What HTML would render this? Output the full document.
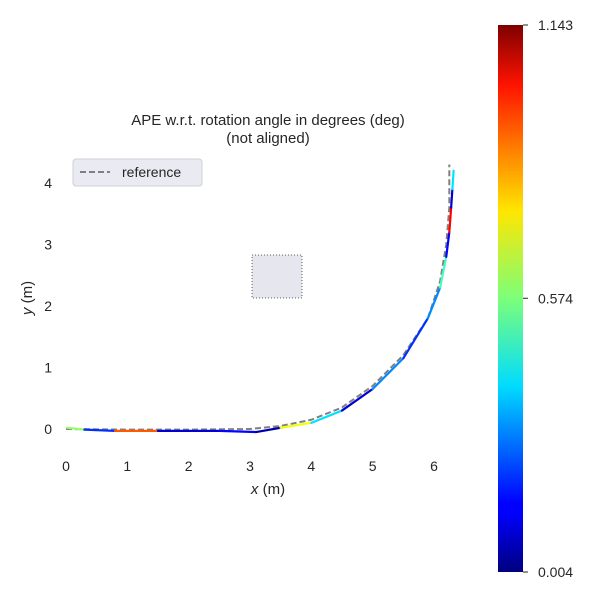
<!DOCTYPE html>
<html><head><meta charset="utf-8"><style>
body{margin:0;background:#fff;font-family:"Liberation Sans","DejaVu Sans",sans-serif;}
</style></head><body>
<svg width="600" height="600" xmlns="http://www.w3.org/2000/svg">
<defs><linearGradient id="jet" x1="0" y1="1" x2="0" y2="0">
<stop offset="0" stop-color="#00007f"/><stop offset="0.11" stop-color="#0000ff"/><stop offset="0.125" stop-color="#0000ff"/>
<stop offset="0.34" stop-color="#00dcff"/><stop offset="0.5" stop-color="#7cff79"/><stop offset="0.66" stop-color="#ffe600"/>
<stop offset="0.89" stop-color="#ff1300"/><stop offset="1" stop-color="#7f0000"/></linearGradient></defs>
<g id="plot"></g>
<text x="268" y="125" text-anchor="middle" font-size="15" fill="#262626">APE w.r.t. rotation angle in degrees (deg)</text>
<text x="268" y="143" text-anchor="middle" font-size="15" fill="#262626">(not aligned)</text>
<text x="268" y="494" text-anchor="middle" font-size="15" fill="#262626"><tspan font-style="italic">x</tspan> (m)</text>
<text transform="translate(32,298) rotate(-90)" text-anchor="middle" font-size="15" fill="#262626"><tspan font-style="italic">y</tspan> (m)</text>
<g>
<rect x="73" y="159" width="129" height="27" rx="3" fill="#eaeaf2" stroke="#d0d0d8"/>
<line x1="80" y1="172" x2="110" y2="172" stroke="#808080" stroke-width="2" stroke-dasharray="6,3"/>
<text x="122" y="177" font-size="14" fill="#262626">reference</text>
</g>
<rect x="498" y="25" width="25" height="547" fill="url(#jet)"/>
<g id="cbt"></g>
</svg>
<script>
const xTicks=[0,1,2,3,4,5,6];
const yTicks=[0,1,2,3,4];
const refX=[0,1,2,3,3.5,4,4.5,5,5.5,5.9,6.1,6.2,6.25,6.25];
const refY=[0,-0.01,-0.01,0,0.05,0.15,0.35,0.7,1.2,1.8,2.4,3.0,3.6,4.3];
const estX=[0.02,0.3,0.8,1.5,2.5,3.1,3.5,4,4.5,5,5.5,5.9,6.1,6.2,6.25,6.28,6.3,6.32];
const estY=[0.02,-0.01,-0.03,-0.03,-0.03,-0.05,0.02,0.1,0.3,0.65,1.15,1.8,2.3,2.8,3.2,3.6,3.9,4.2];
const estErr=[0.6,0.2,0.9,0.1,0.15,0.05,0.7,0.4,0.1,0.3,0.2,0.3,0.5,0.15,1.0,0.1,0.4,0.7];
const cbTicks=[0.004,0.574,1.143];
const vmin=0.004,vmax=1.143;
const NS="http://www.w3.org/2000/svg";
const sx=v=>66+v*61.33, sy=v=>429-v*61.5;
const plot=document.getElementById('plot');
function mk(t,a,p){const e=document.createElementNS(NS,t);for(const k in a)e.setAttribute(k,a[k]);(p||plot).appendChild(e);return e;}
function jet(v){let t=(v-vmin)/(vmax-vmin);const c=x=>Math.round(255*Math.max(0,Math.min(1,x)));
return `rgb(${c(1.5-Math.abs(4*t-3))},${c(1.5-Math.abs(4*t-2))},${c(1.5-Math.abs(4*t-1))})`;}
// map blob
const blob=mk('rect',{x:252,y:255,width:50,height:43,fill:'#e6e6ee',stroke:'#333','stroke-width':0.8,'stroke-dasharray':'1,2'});


xTicks.forEach(v=>{const t=mk('text',{x:sx(v),y:471,'text-anchor':'middle','font-size':14,fill:'#262626'});t.textContent=v;

});
yTicks.forEach(v=>{const t=mk('text',{x:52,y:sy(v)+5,'text-anchor':'end','font-size':14,fill:'#262626'});t.textContent=v;

});
const ref=mk('polyline',{points:refX.map((x,i)=>sx(x)+','+sy(refY[i])).join(' '),fill:'none',stroke:'#808080','stroke-width':2,'stroke-dasharray':'6,3'});


for(let i=0;i<estX.length-1;i++){
const l=mk('line',{x1:sx(estX[i]),y1:sy(estY[i]),x2:sx(estX[i+1]),y2:sy(estY[i+1]),stroke:jet(estErr[i]),'stroke-width':2.2,'stroke-linecap':'round'});

}
const cb=document.getElementById('cbt');
cbTicks.forEach(v=>{const y=572-(v-vmin)/(vmax-vmin)*547;
const l=mk('line',{x1:523,x2:528,y1:y,y2:y,stroke:'#262626'},cb);


const t=mk('text',{x:538,y:y+5,'font-size':14,fill:'#262626'},cb);t.textContent=v.toFixed(3);

});
</script>
</body></html>
